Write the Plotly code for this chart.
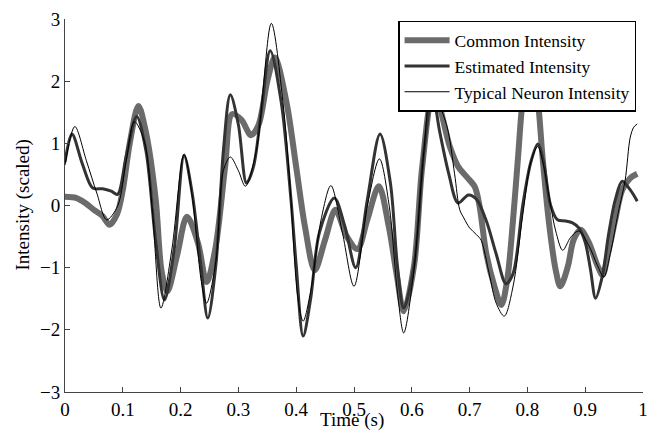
import plotly.graph_objects as go

# ---- data ----
common_t = [0.000, 0.020, 0.035, 0.050, 0.065, 0.077, 0.090, 0.100, 0.112, 0.127,
            0.140, 0.157, 0.167, 0.177, 0.194, 0.211, 0.230, 0.245, 0.260, 0.277,
            0.289, 0.305, 0.322, 0.335, 0.350, 0.363, 0.383, 0.400, 0.415, 0.432,
            0.450, 0.468, 0.487, 0.506, 0.523, 0.543, 0.560, 0.574, 0.586, 0.604,
            0.618, 0.638, 0.666, 0.680, 0.695, 0.709, 0.717, 0.729, 0.743, 0.755,
            0.765, 0.775, 0.784, 0.792, 0.806, 0.818, 0.826, 0.837, 0.849, 0.857,
            0.870, 0.880, 0.892, 0.906, 0.921, 0.930, 0.940, 0.952, 0.964, 0.978, 0.990]
common_y = [0.14, 0.12, 0.04, -0.07, -0.17, -0.31, -0.14, 0.25, 1.00, 1.60,
            1.18, 0.09, -1.05, -1.38, -0.80, -0.18, -0.60, -1.23, -0.70, 0.62,
            1.47, 1.38, 1.13, 1.30, 2.00, 2.38, 1.67, 0.62, -0.33, -1.04,
            -0.55, -0.07, -0.49, -0.70, -0.23, 0.31, -0.33, -1.12, -1.70, -0.96,
            0.62, 1.85, 0.94, 0.63, 0.46, 0.30, 0.00, -0.78, -1.30, -1.60,
            -1.20, -0.25, 0.80, 1.70, 2.40, 1.70, 0.80, -0.25, -1.04, -1.30,
            -0.98, -0.55, -0.39, -0.59, -0.96, -1.12, -0.75, -0.23, 0.25, 0.44, 0.51]

est_t = [0.000, 0.012, 0.030, 0.048, 0.065, 0.080, 0.091, 0.106, 0.124, 0.140,
         0.157, 0.172, 0.189, 0.206, 0.220, 0.235, 0.247, 0.261, 0.274, 0.286,
         0.300, 0.314, 0.326, 0.340, 0.355, 0.374, 0.391, 0.400, 0.412, 0.425,
         0.440, 0.466, 0.484, 0.503, 0.523, 0.545, 0.563, 0.575, 0.586, 0.604,
         0.621, 0.636, 0.648, 0.664, 0.680, 0.698, 0.712, 0.729, 0.746, 0.763,
         0.775, 0.792, 0.806, 0.818, 0.828, 0.840, 0.852, 0.866, 0.878, 0.889,
         0.900, 0.909, 0.918, 0.930, 0.940, 0.952, 0.964, 0.978, 0.990]
est_y = [0.70, 1.15, 0.67, 0.28, 0.27, 0.23, 0.18, 0.80, 1.43, 0.88,
         -0.59, -1.52, -0.70, 0.80, 0.20, -0.96, -1.81, -0.96, 0.88, 1.78,
         1.30, 0.36, 0.62, 1.55, 2.49, 1.67, 0.09, -0.96, -2.10, -1.50,
         -0.44, 0.12, -0.33, -1.00, 0.09, 1.15, 0.36, -0.96, -1.65, -0.96,
         0.88, 1.78, 1.20, 0.51, 0.04, 0.17, 0.10, -0.25, -0.78, -1.26,
         -1.10, 0.01, 0.70, 0.99, 0.70, 0.01, -0.23, -0.25, -0.28, -0.36,
         -0.59, -1.02, -1.49, -1.12, -0.49, 0.09, 0.39, 0.25, 0.07]

typ_t = [0.000, 0.017, 0.037, 0.055, 0.072, 0.091, 0.106, 0.120, 0.137, 0.151,
         0.166, 0.185, 0.206, 0.220, 0.236, 0.245, 0.261, 0.274, 0.286, 0.300,
         0.312, 0.331, 0.357, 0.377, 0.389, 0.403, 0.412, 0.425, 0.443, 0.460,
         0.480, 0.500, 0.523, 0.544, 0.561, 0.575, 0.586, 0.603, 0.621, 0.634,
         0.660, 0.674, 0.683, 0.690, 0.700, 0.712, 0.720, 0.734, 0.746, 0.760,
         0.775, 0.792, 0.806, 0.818, 0.828, 0.840, 0.849, 0.861, 0.875, 0.889,
         0.906, 0.921, 0.932, 0.944, 0.957, 0.969, 0.978, 0.984, 0.990]
typ_y = [0.65, 1.27, 0.72, 0.20, -0.23, -0.01, 0.72, 1.35, 1.04, -0.07,
         -1.65, -0.70, 0.83, 0.15, -1.23, -1.57, -0.90, 0.56, 0.78, 0.56,
         0.31, 0.88, 2.93, 1.67, 0.36, -1.50, -1.86, -1.38, -0.23, 0.32,
         -0.44, -1.30, -0.01, 0.75, -0.01, -1.38, -2.05, -1.10, 0.88, 1.85,
         1.30, 0.51, -0.07, -0.20, -0.36, -0.47, -0.56, -1.10, -1.57, -1.78,
         -1.31, -0.15, 0.70, 0.95, 0.64, 0.01, -0.41, -0.72, -0.51, -0.41,
         -0.64, -0.96, -1.15, -0.75, -0.12, 0.40, 1.10, 1.26, 1.31]

x_ticks = [0, 0.1, 0.2, 0.3, 0.4, 0.5, 0.6, 0.7, 0.8, 0.9, 1]
x_tick_labels = ["0", "0.1", "0.2", "0.3", "0.4", "0.5", "0.6", "0.7", "0.8", "0.9", "1"]
y_ticks = [-3, -2, -1, 0, 1, 2, 3]
y_tick_labels = ["\u22123", "\u22122", "\u22121", "0", "1", "2", "3"]

FONT = "Liberation Serif"

fig = go.Figure()
fig.add_trace(go.Scatter(x=common_t, y=common_y, mode="lines", name="Common Intensity",
                         line=dict(color="#6b6b6b", width=6, shape="spline", smoothing=0.9)))
fig.add_trace(go.Scatter(x=est_t, y=est_y, mode="lines", name="Estimated Intensity",
                         line=dict(color="#333333", width=3, shape="spline", smoothing=0.9)))
fig.add_trace(go.Scatter(x=typ_t, y=typ_y, mode="lines", name="Typical Neuron Intensity",
                         line=dict(color="#000000", width=1, shape="spline", smoothing=0.9)))

axis_common = dict(showline=True, linecolor="#444444", linewidth=1, ticks="inside",
                   ticklen=5, tickcolor="#444444", showgrid=False, zeroline=False,
                   mirror=False, tickfont=dict(family=FONT, size=19, color="#000"))

fig.update_xaxes(range=[0, 1], tickvals=x_ticks, ticktext=x_tick_labels, **axis_common)
fig.update_yaxes(range=[-3, 3], tickvals=y_ticks, ticktext=y_tick_labels, **axis_common)

fig.update_layout(
    width=657, height=431,
    margin=dict(l=65, r=9, t=13, b=39),
    paper_bgcolor="white", plot_bgcolor="white",
    font=dict(family=FONT, size=19, color="#000"),
    legend=dict(x=0.988, y=0.995, xanchor="right", yanchor="top",
                bgcolor="white", bordercolor="#000", borderwidth=1.5,
                font=dict(family=FONT, size=17.5, color="#000"),
                itemwidth=45, tracegroupgap=0),
    annotations=[
        dict(text="Time (s)", xref="paper", yref="paper", x=0.497, y=-0.074,
             xanchor="center", yanchor="middle", showarrow=False,
             font=dict(family=FONT, size=19, color="#000")),
        dict(text="Intensity (scaled)", xref="paper", yref="paper", x=-0.072, y=0.501,
             xanchor="center", yanchor="middle", showarrow=False, textangle=-90,
             font=dict(family=FONT, size=19, color="#000")),
    ],
)

fig.write_html("out.html")
